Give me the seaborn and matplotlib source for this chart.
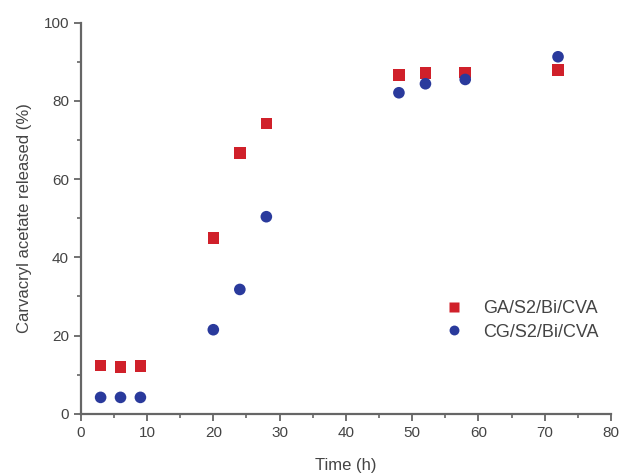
import pandas as pd
import matplotlib.pyplot as plt
import seaborn as sns
from matplotlib.ticker import MultipleLocator

# datos
tiempo = [3, 6, 9, 20, 24, 28, 48, 52, 58, 72]
ga_cva = [12.4, 12.0, 12.2, 45.0, 66.7, 74.2, 86.6, 87.1, 87.3, 87.9]
cg_cva = [4.2, 4.2, 4.2, 21.5, 31.8, 50.4, 82.1, 84.4, 85.5, 91.3]
series = ["GA/S2/Bi/CVA", "CG/S2/Bi/CVA"]

df = pd.DataFrame({
    "t": tiempo * 2,
    "valor": ga_cva + cg_cva,
    "muestra": [series[0]] * len(tiempo) + [series[1]] * len(tiempo),
})

sns.set_style("ticks")
plt.rcParams["font.family"] = ["Liberation Sans", "DejaVu Sans"]

GRIS = "#444444"
fig = plt.figure(figsize=(6.21, 4.74), dpi=100)
ax = fig.add_axes([0.130, 0.127, 0.854, 0.825])

sns.scatterplot(
    data=df, x="t", y="valor", hue="muestra", style="muestra",
    palette={series[0]: "#d0202a", series[1]: "#2a3a9c"},
    markers={series[0]: "s", series[1]: "o"},
    s=70, edgecolor="none", ax=ax, zorder=3,
)

ax.set_xlim(0, 80)
ax.set_ylim(0, 100)
ax.xaxis.set_major_locator(MultipleLocator(10))
ax.xaxis.set_minor_locator(MultipleLocator(5))
ax.yaxis.set_major_locator(MultipleLocator(20))
ax.yaxis.set_minor_locator(MultipleLocator(10))

for s in ["top", "right"]:
    ax.spines[s].set_visible(False)
for s in ["left", "bottom"]:
    ax.spines[s].set_color("#666666")
    ax.spines[s].set_linewidth(1.6)

ax.tick_params(which="major", direction="out", length=5, width=1.3, color="#666666",
               labelsize=11, labelcolor=GRIS)
ax.tick_params(which="minor", direction="out", length=3, width=1.2, color="#666666")

ax.set_xlabel("Time (h)", fontsize=12, color=GRIS, labelpad=13)
ax.set_ylabel("Carvacryl acetate released (%)", fontsize=12, color=GRIS, labelpad=8)

leg = ax.legend(title="", loc="center left", bbox_to_anchor=(0.657, 0.239), frameon=False,
                fontsize=13, handlelength=1.0, handletextpad=1.1, labelspacing=0.35,
                markerscale=0.85)
for txt in leg.get_texts():
    txt.set_color(GRIS)

plt.savefig("out.png", dpi=100)
plt.close()
